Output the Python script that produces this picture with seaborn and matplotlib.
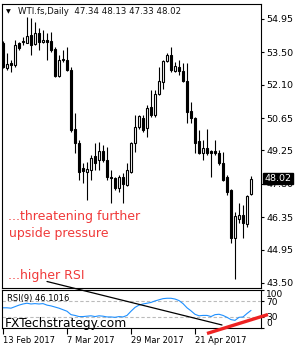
import matplotlib
matplotlib.use("Agg")
import matplotlib.pyplot as plt
import numpy as np
import pandas as pd
import seaborn as sns

# ---------------- data ----------------
opens = [53.91, 52.83, 53.04, 52.96, 53.91, 53.93, 53.91, 54.26, 53.86, 54.34,
         53.95, 54.04, 54.00, 53.65, 52.48, 53.17, 53.17, 52.74, 50.18, 49.57,
         48.49, 48.31, 48.40, 49.00, 48.83, 49.22, 48.83, 48.10, 48.06, 47.62,
         48.10, 47.75, 48.31, 49.57, 50.27, 50.66, 50.22, 51.13, 50.79, 51.70,
         52.22, 53.13, 53.39, 52.70, 52.87, 52.70, 52.26, 50.96, 50.66, 49.66,
         49.14, 49.36, 49.20, 49.22, 49.14, 48.70, 48.10, 47.53, 45.45, 46.27,
         46.45, 46.06, 47.34]
highs = [54.00, 53.45, 53.17, 54.04, 53.95, 54.17, 55.04, 54.99, 54.82, 54.56,
         54.47, 54.34, 54.39, 53.74, 53.39, 53.60, 53.74, 52.87, 50.87, 49.70,
         48.70, 48.75, 49.05, 49.57, 49.62, 49.48, 49.40, 48.40, 48.10, 48.19,
         48.27, 48.70, 49.62, 50.79, 50.79, 50.79, 51.22, 51.87, 51.87, 52.87,
         53.17, 53.48, 53.74, 53.09, 53.17, 53.04, 53.04, 51.35, 50.70, 50.14,
         49.70, 50.18, 49.27, 49.70, 49.27, 49.18, 48.19, 47.58, 46.58, 46.97,
         46.88, 47.32, 48.13]
lows = [52.83, 52.74, 52.65, 52.87, 53.61, 53.82, 53.91, 53.39, 53.82, 53.61,
        53.91, 53.17, 53.52, 52.43, 52.43, 53.08, 52.70, 50.05, 49.14, 47.97,
        47.84, 47.10, 47.97, 48.40, 48.40, 48.75, 47.97, 46.97, 47.53, 47.45,
        46.97, 47.71, 48.27, 49.18, 50.18, 50.05, 49.83, 50.70, 50.70, 51.65,
        51.90, 53.08, 52.65, 52.65, 52.52, 52.22, 50.44, 50.44, 49.14, 49.10,
        48.83, 49.05, 48.10, 49.05, 48.62, 47.92, 47.32, 45.24, 43.68, 46.10,
        45.45, 45.93, 47.33]
closes = [52.87, 53.00, 52.96, 53.82, 53.69, 53.97, 54.21, 53.82, 54.34, 53.95,
          54.04, 53.95, 53.61, 52.48, 53.17, 53.21, 52.74, 50.14, 49.57, 48.31,
          48.36, 48.44, 48.92, 48.70, 49.22, 48.83, 48.10, 48.06, 47.62, 48.10,
          47.79, 48.40, 49.57, 50.27, 50.74, 50.14, 51.09, 50.79, 51.70, 52.26,
          53.13, 53.39, 52.74, 52.91, 52.70, 52.26, 50.92, 50.66, 49.57, 49.14,
          49.36, 49.14, 49.14, 49.14, 48.70, 47.97, 47.45, 45.45, 46.40, 46.45,
          46.10, 47.27, 48.02]
rsi_values = [53, 53, 52, 56, 60, 63, 65, 63, 64, 63,
              64, 60, 58, 55, 52, 48, 44, 35, 33, 30,
              30, 31, 32, 30, 32, 31, 29, 29, 28, 30,
              29, 33, 44, 54, 60, 63, 65, 67, 71, 74,
              77, 78, 78, 76, 72, 64, 53, 45, 36, 32,
              33, 33, 30, 35, 36, 33, 28, 22, 20, 28,
              29, 38, 46.1]
price_ticks = [54.95, 53.50, 52.10, 50.65, 49.25, 47.80, 46.35, 44.95, 43.50]
date_labels = ["13 Feb 2017", "7 Mar 2017", "29 Mar 2017", "21 Apr 2017"]
date_bars = [0, 16, 32, 48]
rsi_levels = [70, 30]
rsi_scale = [100, 70, 30, 0]
last_price = 48.02
rsi_last = 46.1016
trend_bars = [11, 54.75]
trend_rsi = [122, 7.9]
red_bars = [51, 66.25]
red_rsi = [-14.4, 35.4]

# ---------------- style ----------------
sns.set_style("white")
plt.rcParams["font.family"] = ["DejaVu Sans"]

fig = plt.figure(figsize=(3, 3.5), dpi=100)
W, H = 300.0, 350.0
ax = fig.add_axes([1.5 / W, 1 - 287.5 / H, 259 / W, 283.5 / H])
ax2 = fig.add_axes([1.5 / W, 1 - 328 / H, 259 / W, 38.5 / H], sharex=ax)

idx = np.arange(len(closes))
df = pd.DataFrame({"bar": idx, "open": opens, "high": highs, "low": lows,
                   "close": closes, "rsi": rsi_values})

# ---------------- candles ----------------
ax.vlines(df["bar"], df["low"], df["high"], color="black", lw=0.8, zorder=2)
up = df["close"] >= df["open"]
bottoms = np.minimum(df["open"], df["close"])
heights = np.maximum(np.abs(df["close"] - df["open"]), 0.02)
ax.bar(df["bar"][up], heights[up], bottom=bottoms[up], width=0.5,
       color="white", edgecolor="black", linewidth=0.8, zorder=3)
ax.bar(df["bar"][~up], heights[~up], bottom=bottoms[~up], width=0.5,
       color="black", edgecolor="black", linewidth=0.8, zorder=3)

ax.set_xlim(-0.375, 64.375)
ax.set_ylim(43.305, 55.59)
ax.yaxis.tick_right()
ax.set_yticks(price_ticks)
ax.set_yticklabels([f"{v:.2f}" for v in price_ticks])
ax.tick_params(axis="y", right=True, left=False, length=2.5, width=0.8,
               pad=1.5, labelsize=6.8, colors="black")
ax.tick_params(axis="x", bottom=False, labelbottom=False)
for s in ax.spines.values():
    s.set_color("black"); s.set_linewidth(0.8)

ax.annotate(f"{last_price:.2f}", xy=(1, last_price),
            xycoords=("axes fraction", "data"), xytext=(4, 0),
            textcoords="offset pixels", ha="left", va="center",
            color="white", fontsize=6.8, zorder=10, annotation_clip=False,
            bbox=dict(boxstyle="square,pad=0.12", facecolor="black",
                      edgecolor="black"))

# ---------------- RSI panel ----------------
sns.lineplot(data=df, x="bar", y="rsi", ax=ax2, color="#1E90FF", lw=0.8)
for lv in rsi_levels:
    ax2.axhline(lv, color="#BBBBBB", lw=0.8, ls=(0, (3, 2)), zorder=1)
ax2.plot(trend_bars, trend_rsi, color="black", lw=0.9, clip_on=False, zorder=6)
ax2.plot(red_bars, red_rsi, color="#EE2222", lw=2.4, clip_on=False,
         solid_capstyle="butt", zorder=7)
ax2.set_ylim(0, 101)
ax2.set_xlim(-0.375, 64.375)
ax2.set_xlabel(""); ax2.set_ylabel("")
ax2.yaxis.tick_right()
ax2.set_yticks(rsi_scale)
ax2.set_yticklabels([str(v) for v in rsi_scale])
ax2.tick_params(axis="y", right=True, left=False, length=2.5, width=0.8,
                pad=1.5, labelsize=6.5, colors="black")
labs = ax2.get_yticklabels()
labs[0].set_va("top")
labs[-1].set_va("bottom")
ax2.set_xticks(date_bars)
ax2.set_xticklabels(date_labels, ha="left")
ax2.tick_params(axis="x", bottom=True, length=4, width=0.8, pad=1.5,
                labelsize=6, colors="black")
for s in ax2.spines.values():
    s.set_color("black"); s.set_linewidth(0.8)

# ---------------- texts ----------------
fig.text(6 / W, 1 - 11.5 / H, "\u25bc", fontsize=4.5, va="center", color="black")
fig.text(18 / W, 1 - 11.5 / H, "WTI.fs,Daily  47.34 48.13 47.33 48.02",
         fontsize=6.2, va="center", color="#111111")
red = "#F03A3A"
fig.text(8 / W, 1 - 220 / H, "...threatening further", fontsize=9,
         va="baseline", color=red)
fig.text(9 / W, 1 - 237.5 / H, "upside pressure", fontsize=9,
         va="baseline", color=red)
fig.text(8 / W, 1 - 279 / H, "...higher RSI", fontsize=9,
         va="baseline", color=red)
fig.text(7 / W, 1 - 298.5 / H, f"RSI(9) {rsi_last}", fontsize=6,
         va="center", color="black")
fig.text(5 / W, 1 - 327 / H, "FXTechstrategy.com", fontsize=8.8,
         va="baseline", color="black", zorder=20)

fig.savefig("out.png", dpi=100)
